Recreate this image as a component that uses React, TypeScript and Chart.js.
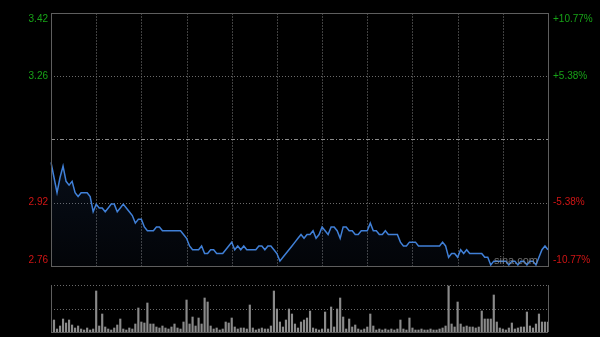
import { useEffect, useRef } from 'react';
import { Chart, registerables } from 'chart.js';
Chart.register(...registerables);

const prevClose = 3.09;
const pctTicks = [10.77, 5.38, 0, -5.38, -10.77];
const leftTickLabels = ['3.42', '3.26', '', '2.92', '2.76'];
const rightTickLabels = ['+10.77%', '+5.38%', '', '-5.38%', '-10.77%'];
const pointsPerGrid = 15;

const prices = [
  3.03, 2.99, 2.95, 2.99, 3.02, 2.98, 2.97, 2.98, 2.95, 2.94,
  2.95, 2.95, 2.95, 2.94, 2.90, 2.92, 2.91, 2.91, 2.90, 2.91,
  2.92, 2.92, 2.90, 2.91, 2.92, 2.91, 2.90, 2.89, 2.87, 2.88,
  2.88, 2.86, 2.85, 2.85, 2.85, 2.86, 2.86, 2.85, 2.85, 2.85,
  2.85, 2.85, 2.85, 2.85, 2.84, 2.83, 2.81, 2.80, 2.80, 2.80,
  2.81, 2.79, 2.79, 2.80, 2.80, 2.79, 2.79, 2.79, 2.80, 2.81,
  2.82, 2.80, 2.81, 2.80, 2.81, 2.80, 2.80, 2.80, 2.80, 2.81,
  2.81, 2.80, 2.81, 2.81, 2.80, 2.79, 2.77, 2.78, 2.79, 2.80,
  2.81, 2.82, 2.83, 2.84, 2.83, 2.84, 2.84, 2.85, 2.83, 2.84,
  2.86, 2.85, 2.84, 2.86, 2.86, 2.85, 2.83, 2.86, 2.86, 2.85,
  2.85, 2.84, 2.84, 2.85, 2.85, 2.85, 2.87, 2.85, 2.85, 2.84,
  2.84, 2.85, 2.84, 2.84, 2.84, 2.84, 2.82, 2.81, 2.81, 2.82,
  2.82, 2.82, 2.81, 2.81, 2.81, 2.81, 2.81, 2.81, 2.81, 2.81,
  2.82, 2.81, 2.78, 2.79, 2.79, 2.78, 2.80, 2.79, 2.80, 2.79,
  2.79, 2.79, 2.79, 2.79, 2.78, 2.78, 2.76, 2.77, 2.77, 2.77,
  2.77, 2.77, 2.76, 2.77, 2.77, 2.76, 2.77, 2.77, 2.76, 2.77,
  2.77, 2.76, 2.78, 2.80, 2.81, 2.80,
];

const volumes = [
  11, 12, 3, 6, 13, 9, 12, 7, 4, 6,
  3, 2, 4, 2, 3, 41, 6, 18, 5, 3,
  2, 4, 7, 13, 3, 2, 4, 3, 8, 24,
  10, 9, 29, 8, 8, 5, 4, 6, 4, 3,
  5, 8, 4, 3, 10, 32, 8, 15, 6, 14,
  8, 34, 30, 6, 3, 4, 2, 3, 10, 9,
  14, 5, 3, 4, 4, 3, 27, 4, 2, 3,
  4, 3, 3, 6, 41, 23, 10, 5, 12, 23,
  18, 8, 4, 10, 12, 14, 21, 4, 3, 2,
  3, 20, 3, 25, 5, 23, 34, 15, 3, 13,
  5, 7, 3, 2, 3, 5, 18, 6, 2, 3,
  2, 3, 2, 3, 2, 3, 12, 3, 2, 14,
  4, 2, 2, 3, 2, 2, 3, 2, 2, 3,
  4, 6, 46, 8, 5, 30, 8, 5, 6, 5,
  5, 4, 5, 21, 13, 13, 13, 37, 10, 4,
  3, 2, 4, 9, 3, 4, 5, 5, 20, 6,
  4, 8, 18, 10, 10, 10,
];
const volumeMax = 47;

const GREEN = '#17a317';
const RED = '#d01515';
const FONT = '10px "Liberation Sans", Arial, sans-serif';

export default function App() {
  const priceRef = useRef<HTMLCanvasElement>(null);
  const volRef = useRef<HTMLCanvasElement>(null);

  useEffect(() => {
    document.body.style.margin = '0';
    document.body.style.background = '#000';
    const labels = prices.map((_, i) => String(i));
    const yMax = prevClose * (1 + pctTicks[0] / 100);
    const yMin = prevClose * (1 + pctTicks[pctTicks.length - 1] / 100);

    const pricePlugin = {
      id: 'priceFrame',
      beforeDatasetsDraw(chart: any) {
        const { ctx, chartArea: a, scales } = chart;
        ctx.save();
        ctx.lineWidth = 1;
        ctx.strokeStyle = '#404040';
        ctx.setLineDash([2, 1]);
        for (let i = pointsPerGrid; i < prices.length - 1; i += pointsPerGrid) {
          const x = Math.round(scales.x.getPixelForValue(i)) + 0.5;
          ctx.beginPath();
          ctx.moveTo(x, a.top);
          ctx.lineTo(x, a.bottom);
          ctx.stroke();
        }
        pctTicks.forEach((p, k) => {
          if (k === 0 || k === pctTicks.length - 1) return;
          const y = Math.round(scales.y.getPixelForValue(prevClose * (1 + p / 100))) + 0.5;
          if (p === 0) {
            ctx.strokeStyle = '#8a8a8a';
            ctx.setLineDash([4, 2, 1, 2]);
          } else {
            ctx.strokeStyle = '#6a6a6a';
            ctx.setLineDash([1, 2]);
          }
          ctx.beginPath();
          ctx.moveTo(a.left, y);
          ctx.lineTo(a.right, y);
          ctx.stroke();
        });
        ctx.restore();
      },
      afterDatasetsDraw(chart: any) {
        const { ctx, chartArea: a, scales } = chart;
        ctx.save();
        ctx.fillStyle = 'rgba(150,150,150,0.75)';
        ctx.font = '11px "Liberation Sans", Arial, sans-serif';
        ctx.textAlign = 'right';
        ctx.textBaseline = 'middle';
        ctx.fillText('sina.com', a.right - 10, a.bottom - 5);
        ctx.strokeStyle = '#5e5e5e';
        ctx.lineWidth = 1;
        ctx.setLineDash([]);
        ctx.strokeRect(Math.round(a.left) + 0.5, Math.round(a.top) + 0.5, Math.round(a.right - a.left), Math.round(a.bottom - a.top));
        ctx.font = FONT;
        pctTicks.forEach((p, k) => {
          let y = scales.y.getPixelForValue(prevClose * (1 + p / 100));
          if (k === 0) y += 6;
          if (k === pctTicks.length - 1) y -= 6;
          ctx.fillStyle = p > 0 ? GREEN : p < 0 ? RED : '#cccccc';
          ctx.textAlign = 'right';
          ctx.fillText(leftTickLabels[k], a.left - 3, y);
          ctx.textAlign = 'left';
          ctx.fillText(rightTickLabels[k], a.right + 5, y);
        });
        ctx.restore();
      },
    };

    const priceChart = new Chart(priceRef.current!, {
      type: 'line',
      data: {
        labels,
        datasets: [
          {
            data: prices,
            borderColor: '#4080d8',
            borderWidth: 1.5,
            pointRadius: 0,
            tension: 0,
            fill: 'start',
            backgroundColor: (c: any) => {
              const a = c.chart.chartArea;
              if (!a) return 'rgba(0,0,0,0)';
              const g = c.chart.ctx.createLinearGradient(0, a.top + (a.bottom - a.top) * 0.55, 0, a.bottom);
              g.addColorStop(0, 'rgba(50,90,160,0.16)');
              g.addColorStop(1, 'rgba(50,90,160,0.05)');
              return g;
            },
          },
        ],
      },
      options: {
        responsive: false,
        animation: false,
        devicePixelRatio: 1,
        layout: { padding: { left: 51, right: 52, top: 13, bottom: 9 } },
        plugins: { legend: { display: false }, tooltip: { enabled: false } },
        scales: {
          x: { type: 'category', display: false, offset: false },
          y: { type: 'linear', display: false, min: yMin, max: yMax },
        },
      },
      plugins: [pricePlugin],
    });

    const volPlugin = {
      id: 'volFrame',
      beforeDatasetsDraw(chart: any) {
        const { ctx, chartArea: a } = chart;
        ctx.save();
        ctx.lineWidth = 1;
        ctx.strokeStyle = '#6a6a6a';
        ctx.setLineDash([1, 2]);
        const mid = Math.round((a.top + a.bottom) / 2) + 0.5;
        [Math.round(a.top) + 0.5, mid].forEach((y) => {
          ctx.beginPath();
          ctx.moveTo(a.left, y);
          ctx.lineTo(a.right, y);
          ctx.stroke();
        });
        ctx.restore();
      },
      afterDatasetsDraw(chart: any) {
        const { ctx, chartArea: a } = chart;
        ctx.save();
        ctx.lineWidth = 1;
        ctx.strokeStyle = '#5e5e5e';
        ctx.setLineDash([]);
        ctx.beginPath();
        ctx.moveTo(Math.round(a.left) + 0.5, a.top);
        ctx.lineTo(Math.round(a.left) + 0.5, a.bottom);
        ctx.moveTo(Math.round(a.right) + 0.5, a.top);
        ctx.lineTo(Math.round(a.right) + 0.5, a.bottom);
        ctx.moveTo(a.left, Math.round(a.bottom) + 0.5);
        ctx.lineTo(a.right, Math.round(a.bottom) + 0.5);
        ctx.stroke();
        ctx.restore();
      },
    };

    const volChart = new Chart(volRef.current!, {
      type: 'bar',
      data: {
        labels,
        datasets: [
          {
            data: volumes,
            backgroundColor: '#8a8a8a',
            barThickness: 1.5,
          },
        ],
      },
      options: {
        responsive: false,
        animation: false,
        devicePixelRatio: 1,
        layout: { padding: { left: 51, right: 52, top: 10, bottom: 5 } },
        plugins: { legend: { display: false }, tooltip: { enabled: false } },
        scales: {
          x: { type: 'category', display: false, offset: false },
          y: { type: 'linear', display: false, min: 0, max: volumeMax },
        },
      },
      plugins: [volPlugin],
    });

    return () => {
      priceChart.destroy();
      volChart.destroy();
    };
  }, []);

  return (
    <div style={{ position: 'fixed', left: 0, top: 0, width: 600, height: 337, background: '#000', overflow: 'hidden' }}>
      <canvas ref={priceRef} width={600} height={275} style={{ position: 'absolute', left: 0, top: 0, display: 'block' }} />
      <canvas ref={volRef} width={600} height={62} style={{ position: 'absolute', left: 0, top: 275, display: 'block' }} />
    </div>
  );
}
